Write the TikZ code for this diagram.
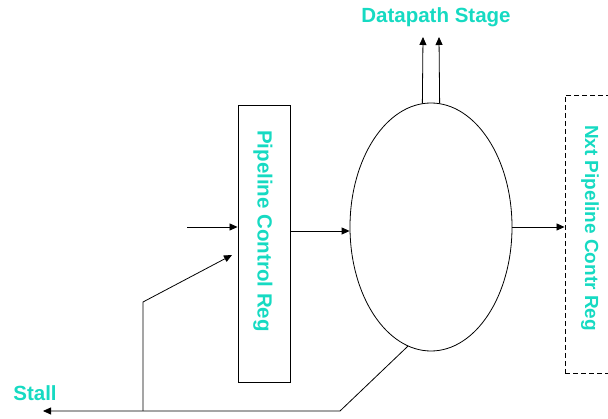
\documentclass[tikz,border=0pt]{standalone}
\usepackage{fontspec}
\setmainfont{Liberation Sans}
\usetikzlibrary{arrows.meta,shapes.geometric}

\definecolor{sigteal}{RGB}{22,218,194}

\tikzset{
  wire/.style={line width=0.8pt},
  arr/.style={wire, -{Triangle[length=8pt,width=7pt]}},
  regbox/.style={draw, line width=0.9pt, inner sep=0pt},
  sigtext/.style={text=sigteal, font=\fontsize{20.5}{24}\selectfont\bfseries, inner sep=0pt}
}

\begin{document}
\begin{tikzpicture}[x=1pt, y=-1pt]
    \useasboundingbox (0,0) rectangle (608,419);

    % control register and the stage logic
    \node[regbox, minimum width=52pt, minimum height=277pt] (ctrlreg) at (264,243.5) {};
    \node[sigtext, rotate=-90] (ctrltext) at (263,231) {Pipeline Control Reg};

    \node[draw, wire, ellipse, minimum width=162pt, minimum height=248pt, inner sep=0pt] (stage) at (431,227) {};

    % next register, cut off at the right edge
    \node[regbox, dashed, dash pattern=on 5pt off 3pt, minimum width=60pt, minimum height=278pt] (nxtreg) at (595,234) {};
    \node[sigtext, rotate=-90, font=\fontsize{19}{22}\selectfont\bfseries] (nxttext) at (590,228) {Nxt Pipeline Contr Reg};

    % labels
    \node[sigtext] (dptext) at (436,17) {Datapath Stage};
    \node[sigtext] (stall) at (35,393) {Stall};

    % free ends
    \coordinate (in) at (187,227);
    \coordinate (dp1) at (423,37);
    \coordinate (dp2) at (439,37);
    \coordinate (bend) at (340,411);
    \coordinate (stallend) at (43,411);
    \coordinate (tap) at (143,411);
    \coordinate (knee) at (143,302);
    \coordinate (stallin) at (232,255);

    % connectors
    \draw[arr] (in) -- (in -| ctrlreg.west);
    \draw[arr] ([yshift=-4pt]ctrlreg.east |- stage.west) -- ([yshift=-4pt]stage.west);
    \draw[arr] (stage.east) -- (stage.east -| nxtreg.west);
    \draw[arr] (stage.94) -- (dp1);
    \draw[arr] (stage.86) -- (dp2);
    \draw[arr] (stage.259) -- (bend) -- (stallend);
    \draw[arr] (tap) -- (knee) -- (stallin);
\end{tikzpicture}
\end{document}
